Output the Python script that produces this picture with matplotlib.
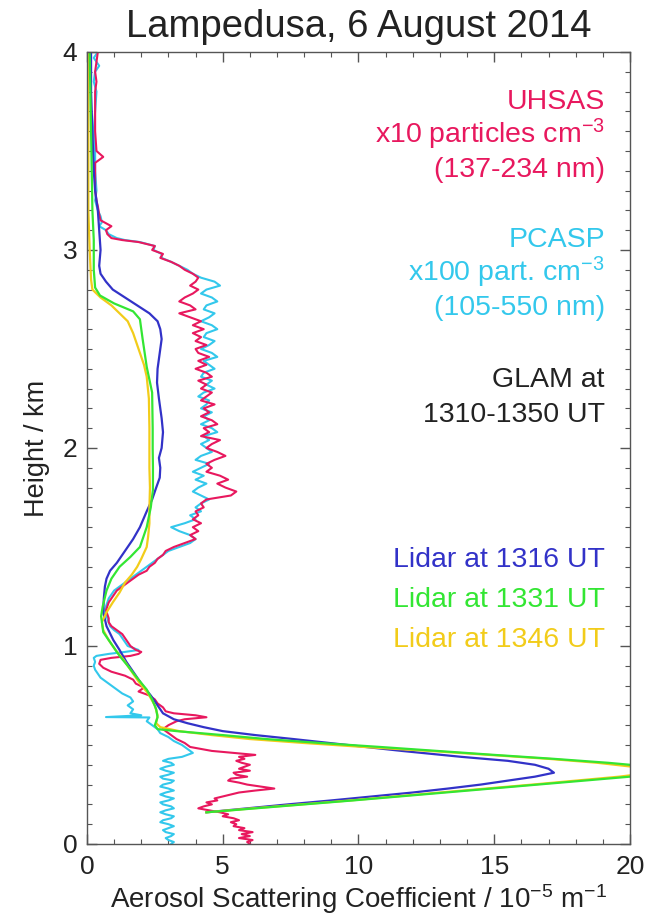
import matplotlib
matplotlib.use("Agg")
import matplotlib.pyplot as plt
from matplotlib.ticker import MultipleLocator

plt.rcParams['font.family'] = ['Liberation Sans', 'DejaVu Sans']
plt.rcParams['mathtext.fontset'] = 'custom'
plt.rcParams['mathtext.rm'] = 'Liberation Sans'
plt.rcParams['mathtext.default'] = 'regular'

# ---- aircraft profiles (height in km, scattering-equivalent value) ----
uhsas_km = [4.00, 3.95, 3.90, 3.85, 3.80, 3.70, 3.60, 3.50, 3.47, 3.44,
            3.40, 3.30, 3.25, 3.22, 3.18, 3.15, 3.12, 3.10, 3.08, 3.06,
            3.05, 3.04, 3.02, 3.00, 2.98, 2.96, 2.94, 2.92, 2.90, 2.88,
            2.86, 2.84, 2.82, 2.80, 2.78, 2.76, 2.74, 2.72, 2.70, 2.68,
            2.66, 2.64, 2.62, 2.60, 2.58, 2.56, 2.54, 2.52, 2.50, 2.48,
            2.46, 2.44, 2.42, 2.40, 2.38, 2.36, 2.34, 2.32, 2.30, 2.28,
            2.26, 2.24, 2.22, 2.20, 2.18, 2.16, 2.14, 2.12, 2.10, 2.08,
            2.06, 2.04, 2.02, 2.00, 1.98, 1.96, 1.94, 1.92, 1.90, 1.88,
            1.86, 1.84, 1.82, 1.80, 1.78, 1.76, 1.74, 1.72, 1.70, 1.68,
            1.66, 1.64, 1.62, 1.60, 1.58, 1.56, 1.54, 1.52, 1.50, 1.48,
            1.46, 1.44, 1.42, 1.40, 1.38, 1.36, 1.34, 1.32, 1.30, 1.28,
            1.26, 1.24, 1.22, 1.20, 1.18, 1.16, 1.14, 1.12, 1.10, 1.08,
            1.06, 1.04, 1.02, 1.00, 0.98, 0.97, 0.96, 0.95, 0.94, 0.93,
            0.91, 0.89, 0.87, 0.85, 0.83, 0.81, 0.79, 0.77, 0.75, 0.73,
            0.71, 0.69, 0.67, 0.66, 0.65, 0.64, 0.63, 0.62, 0.60, 0.58,
            0.57, 0.55, 0.53, 0.51, 0.49, 0.48, 0.47, 0.46, 0.45, 0.44,
            0.43, 0.42, 0.41, 0.40, 0.39, 0.38, 0.37, 0.36, 0.35, 0.34,
            0.33, 0.32, 0.31, 0.30, 0.29, 0.28, 0.27, 0.26, 0.25, 0.24,
            0.23, 0.22, 0.21, 0.20, 0.19, 0.18, 0.17, 0.16, 0.15, 0.14,
            0.13, 0.12, 0.11, 0.10, 0.09, 0.08, 0.07, 0.06, 0.05, 0.04,
            0.03, 0.02, 0.01, 0.00]
uhsas_val = [0.40, 0.35, 0.30, 0.35, 0.30, 0.30, 0.30, 0.35, 0.60, 0.30,
             0.30, 0.30, 0.35, 0.40, 0.45, 0.50, 0.90, 0.70, 0.75, 0.90,
             1.30, 1.90, 2.50, 2.40, 2.80, 2.70, 3.10, 3.40, 3.60, 3.90,
             4.10, 4.00, 3.80, 4.10, 3.90, 3.60, 3.40, 3.80, 4.00, 3.40,
             3.80, 4.20, 3.90, 4.30, 3.90, 4.20, 4.00, 4.40, 4.00, 4.10,
             4.50, 4.10, 4.40, 4.00, 4.40, 4.60, 4.10, 4.40, 4.20, 4.60,
             4.40, 4.20, 4.70, 4.30, 4.50, 4.20, 4.60, 4.80, 4.30, 4.50,
             4.20, 4.90, 4.60, 4.40, 4.80, 5.10, 4.70, 4.40, 4.60, 4.40,
             4.90, 5.20, 4.80, 5.10, 5.50, 5.30, 4.40, 4.20, 4.30, 4.00,
             4.10, 3.90, 4.20, 3.90, 4.10, 3.80, 4.00, 3.60, 3.20, 2.90,
             2.80, 2.60, 2.50, 2.30, 2.20, 1.90, 1.70, 1.50, 1.30, 1.10,
             1.00, 0.90, 0.80, 0.75, 0.70, 0.75, 0.80, 0.80, 0.90, 1.10,
             1.30, 1.40, 1.50, 1.60, 1.80, 2.00, 1.90, 1.60, 0.90, 0.50,
             0.45, 0.60, 0.90, 1.40, 1.70, 1.80, 2.10, 1.90, 2.30, 2.50,
             2.60, 2.80, 2.90, 3.20, 4.00, 4.40, 3.60, 3.30, 3.00, 2.80,
             2.90, 3.10, 3.30, 3.60, 3.80, 4.20, 4.60, 5.40, 6.20, 5.60,
             5.80, 5.50, 5.70, 6.00, 5.80, 5.60, 6.00, 5.40, 5.50, 5.90,
             5.30, 5.20, 5.60, 5.90, 6.40, 6.90, 6.20, 5.60, 5.30, 5.00,
             4.70, 4.80, 4.40, 4.60, 4.30, 4.10, 4.50, 4.90, 5.20, 5.00,
             5.40, 5.60, 5.30, 5.50, 5.40, 5.80, 5.60, 6.10, 5.70, 6.00,
             5.60, 6.10, 5.90, 6.00]

pcasp_km = [4.00, 3.97, 3.93, 3.90, 3.85, 3.80, 3.70, 3.60, 3.50, 3.40,
            3.30, 3.25, 3.20, 3.17, 3.14, 3.12, 3.10, 3.08, 3.06, 3.05,
            3.04, 3.02, 3.00, 2.98, 2.96, 2.94, 2.92, 2.90, 2.88, 2.86,
            2.84, 2.82, 2.80, 2.78, 2.76, 2.74, 2.72, 2.70, 2.68, 2.66,
            2.64, 2.62, 2.60, 2.58, 2.56, 2.54, 2.52, 2.50, 2.48, 2.46,
            2.44, 2.42, 2.40, 2.38, 2.36, 2.34, 2.32, 2.30, 2.28, 2.26,
            2.24, 2.22, 2.20, 2.18, 2.16, 2.14, 2.12, 2.10, 2.08, 2.06,
            2.04, 2.02, 2.00, 1.98, 1.96, 1.94, 1.92, 1.90, 1.88, 1.86,
            1.84, 1.82, 1.80, 1.78, 1.76, 1.74, 1.72, 1.70, 1.68, 1.66,
            1.64, 1.62, 1.60, 1.58, 1.56, 1.54, 1.52, 1.50, 1.48, 1.46,
            1.44, 1.42, 1.40, 1.38, 1.36, 1.34, 1.32, 1.30, 1.28, 1.26,
            1.24, 1.22, 1.20, 1.18, 1.16, 1.14, 1.12, 1.10, 1.08, 1.06,
            1.04, 1.02, 1.00, 0.98, 0.97, 0.96, 0.95, 0.94, 0.92, 0.90,
            0.88, 0.86, 0.84, 0.82, 0.80, 0.78, 0.76, 0.74, 0.72, 0.70,
            0.68, 0.66, 0.65, 0.641, 0.639, 0.62, 0.60, 0.58, 0.56, 0.54,
            0.52, 0.50, 0.48, 0.46, 0.44, 0.43, 0.42, 0.41, 0.40, 0.39,
            0.38, 0.37, 0.36, 0.35, 0.34, 0.33, 0.32, 0.31, 0.30, 0.29,
            0.28, 0.27, 0.26, 0.25, 0.24, 0.23, 0.22, 0.21, 0.20, 0.19,
            0.18, 0.17, 0.16, 0.15, 0.14, 0.13, 0.12, 0.11, 0.10, 0.09,
            0.08, 0.07, 0.06, 0.05, 0.04, 0.03, 0.02, 0.01, 0.00]
pcasp_val = [0.40, 0.25, 0.45, 0.30, 0.25, 0.35, 0.30, 0.25, 0.30, 0.30,
             0.35, 0.30, 0.40, 0.50, 0.55, 0.45, 0.70, 0.80, 1.10, 1.40,
             1.95, 2.50, 2.45, 2.75, 2.75, 3.10, 3.40, 3.70, 3.90, 4.20,
             4.70, 4.90, 4.40, 4.20, 4.60, 4.80, 4.40, 4.30, 4.70, 4.50,
             4.20, 4.60, 4.80, 4.40, 4.30, 4.70, 4.50, 4.20, 4.60, 4.80,
             4.30, 4.50, 4.70, 4.30, 4.20, 4.60, 4.40, 4.70, 4.30, 4.10,
             4.50, 4.40, 4.20, 4.60, 4.30, 4.50, 4.20, 4.60, 4.80, 4.30,
             4.50, 4.20, 4.40, 4.60, 4.20, 4.00, 4.50, 4.20, 3.90, 4.30,
             4.00, 4.40, 4.10, 3.90, 4.20, 4.50, 4.20, 4.00, 4.20, 3.80,
             4.00, 3.60, 3.10, 3.40, 3.80, 4.00, 3.80, 3.40, 3.00, 2.80,
             2.60, 2.40, 2.20, 2.00, 1.80, 1.60, 1.40, 1.20, 1.00, 0.90,
             0.80, 0.75, 0.70, 0.65, 0.70, 0.75, 0.80, 0.85, 1.00, 1.20,
             1.30, 1.40, 1.50, 1.90, 1.40, 0.80, 0.35, 0.25, 0.30, 0.25,
             0.30, 0.40, 0.50, 0.70, 0.90, 1.10, 1.30, 1.60, 1.70, 1.50,
             1.70, 1.60, 2.00, 0.70, 2.30, 2.20, 2.40, 2.60, 2.70, 3.00,
             3.20, 3.50, 3.70, 3.90, 3.50, 3.00, 2.80, 3.10, 3.20, 2.90,
             2.70, 2.90, 3.20, 3.00, 2.70, 2.80, 3.20, 3.10, 2.80, 2.70,
             3.00, 3.20, 2.90, 2.70, 2.90, 3.20, 3.00, 2.70, 2.80, 3.10,
             3.20, 2.90, 2.70, 2.90, 3.20, 3.10, 2.80, 2.70, 3.00, 3.20,
             3.00, 2.80, 2.90, 3.20, 3.10, 2.90, 3.00, 3.20, 3.10]

# ---- lidar profiles ----
lidar1316_km = [4.00, 3.80, 3.60, 3.40, 3.30, 3.20, 3.10, 3.00, 2.92, 2.88,
                2.84, 2.80, 2.76, 2.72, 2.68, 2.64, 2.60, 2.55, 2.50, 2.45,
                2.40, 2.33, 2.25, 2.15, 2.08, 2.00, 1.95, 1.90, 1.85, 1.80,
                1.74, 1.68, 1.60, 1.54, 1.48, 1.42, 1.38, 1.34, 1.30, 1.24,
                1.17, 1.10, 1.03, 0.98, 0.92, 0.86, 0.80, 0.75, 0.70, 0.66,
                0.63, 0.61, 0.59, 0.57, 0.55, 0.53, 0.50, 0.47, 0.44, 0.42,
                0.40, 0.38, 0.36, 0.34, 0.32, 0.30, 0.28, 0.26, 0.24, 0.22,
                0.20, 0.18, 0.16]
lidar1316_val = [0.15, 0.15, 0.20, 0.25, 0.30, 0.40, 0.45, 0.50, 0.45, 0.50,
                 0.70, 0.95, 1.40, 1.85, 2.30, 2.60, 2.70, 2.75, 2.70, 2.65,
                 2.60, 2.58, 2.65, 2.75, 2.80, 2.75, 2.65, 2.70, 2.68, 2.55,
                 2.40, 2.20, 1.95, 1.70, 1.40, 1.10, 0.85, 0.72, 0.66, 0.62,
                 0.60, 0.72, 0.97, 1.20, 1.45, 1.75, 2.05, 2.35, 2.60, 2.80,
                 3.20, 3.70, 4.30, 5.00, 6.20, 7.60, 9.60, 11.60, 13.80, 15.50,
                 16.50, 17.00, 17.20, 16.50, 15.50, 14.50, 13.30, 12.00, 10.50, 9.00,
                 7.40, 5.90, 4.40]

lidar1331_km = [4.00, 3.60, 3.20, 3.05, 2.90, 2.81, 2.77, 2.73, 2.69, 2.65,
                2.55, 2.41, 2.28, 2.10, 2.00, 1.90, 1.79, 1.70, 1.60, 1.50,
                1.45, 1.40, 1.34, 1.28, 1.20, 1.15, 1.07, 1.00, 0.95, 0.90,
                0.84, 0.78, 0.73, 0.68, 0.64, 0.60, 0.58, 0.57, 0.55, 0.53,
                0.51, 0.49, 0.47, 0.45, 0.43, 0.41, 0.40, 0.38, 0.37, 0.36,
                0.34, 0.30, 0.26, 0.22, 0.18, 0.16]
lidar1331_val = [0.10, 0.15, 0.20, 0.25, 0.25, 0.30, 0.48, 1.00, 1.70, 1.95,
                 2.05, 2.20, 2.40, 2.42, 2.42, 2.43, 2.43, 2.35, 2.20, 1.95,
                 1.60, 1.20, 0.90, 0.72, 0.58, 0.52, 0.60, 0.95, 1.20, 1.50,
                 1.84, 2.20, 2.40, 2.55, 2.60, 2.50, 2.60, 3.30, 5.00, 6.60,
                 8.60, 10.80, 12.90, 15.00, 17.20, 19.20, 20.00, 21.80, 22.50, 22.00,
                 20.00, 16.60, 13.20, 9.80, 6.20, 4.40]

lidar1346_km = [4.00, 3.50, 3.20, 3.00, 2.85, 2.80, 2.76, 2.72, 2.68, 2.64,
                2.58, 2.50, 2.42, 2.36, 2.25, 2.10, 2.00, 1.90, 1.80, 1.70,
                1.62, 1.55, 1.50, 1.47, 1.44, 1.40, 1.36, 1.32, 1.27, 1.22,
                1.17, 1.12, 1.08, 1.03, 0.98, 0.93, 0.88, 0.82, 0.76, 0.70,
                0.65, 0.61, 0.59, 0.57, 0.55, 0.53, 0.51, 0.49, 0.47, 0.45,
                0.43, 0.41, 0.39, 0.37, 0.36, 0.35, 0.34, 0.30, 0.26, 0.22,
                0.18, 0.16]
lidar1346_val = [0.05, 0.05, 0.05, 0.10, 0.15, 0.20, 0.50, 0.90, 1.20, 1.50,
                 1.70, 1.90, 2.10, 2.20, 2.28, 2.30, 2.30, 2.30, 2.32, 2.30,
                 2.30, 2.25, 2.20, 2.10, 2.00, 1.85, 1.65, 1.40, 1.20, 0.95,
                 0.72, 0.55, 0.60, 0.80, 1.05, 1.35, 1.60, 1.90, 2.25, 2.50,
                 2.60, 2.55, 2.70, 3.40, 4.60, 6.00, 8.00, 10.20, 12.60, 14.80,
                 17.00, 18.80, 20.10, 21.00, 20.80, 20.20, 19.60, 16.40, 13.00, 9.70,
                 6.10, 4.40]

c_uhsas = '#e8185e'
c_pcasp = '#33c8ec'
c_1316 = '#3232c8'
c_1331 = '#33e633'
c_1346 = '#f2cc1a'

fig = plt.figure(figsize=(6.52, 9.23), dpi=100)
ax = fig.add_axes([0.1334, 0.0856, 0.8328, 0.8581])

ax.plot(pcasp_val, pcasp_km, color=c_pcasp, lw=1.5)
ax.plot(uhsas_val, uhsas_km, color=c_uhsas, lw=1.5)
ax.plot(lidar1316_val, lidar1316_km, color=c_1316, lw=1.6)
ax.plot(lidar1346_val, lidar1346_km, color=c_1346, lw=1.6)
ax.plot(lidar1331_val, lidar1331_km, color=c_1331, lw=1.6)

ax.set_xlim(0, 20)
ax.set_ylim(0, 4)
ax.xaxis.set_major_locator(MultipleLocator(5))
ax.xaxis.set_minor_locator(MultipleLocator(1))
ax.yaxis.set_major_locator(MultipleLocator(1))
ax.yaxis.set_minor_locator(MultipleLocator(0.1))
ax.tick_params(which='both', direction='in', top=True, right=True,
               color='#555555', labelcolor='#222222', labelsize=19)
ax.tick_params(which='major', length=7, width=1)
ax.tick_params(which='minor', length=3.5, width=0.8)
ax.tick_params(axis='x', pad=8)
ax.tick_params(axis='y', pad=7)
for s in ax.spines.values():
    s.set_color('#555555')
    s.set_linewidth(1)

fig.canvas.draw()
ylabs = ax.get_yticklabels()
ylabs[0].set_va('bottom')
ylabs[-1].set_va('top')

ax.set_title('Lampedusa, 6 August 2014', fontsize=27.5, pad=11, color='#222222')
ax.set_xlabel('Aerosol Scattering Coefficient / 10$^{-5}$ m$^{-1}$',
              fontsize=20, labelpad=2, color='#222222')
ax.set_ylabel('Height / km', fontsize=19.5, labelpad=9, color='#222222')

notes = [
    ('UHSAS', 0.9280, c_uhsas),
    ('x10 particles cm$^{-3}$', 0.8851, c_uhsas),
    ('(137-234 nm)', 0.8422, c_uhsas),
    ('PCASP', 0.7538, c_pcasp),
    ('x100 part. cm$^{-3}$', 0.7109, c_pcasp),
    ('(105-550 nm)', 0.6679, c_pcasp),
    ('GLAM at', 0.5770, '#222222'),
    ('1310-1350 UT', 0.5328, '#222222'),
    ('Lidar at 1316 UT', 0.3497, c_1316),
    ('Lidar at 1331 UT', 0.2992, c_1331),
    ('Lidar at 1346 UT', 0.2487, c_1346),
]
for txt, yy, col in notes:
    ax.text(0.954, yy, txt, transform=ax.transAxes, ha='right', va='baseline',
            fontsize=20.5, color=col)

fig.savefig('out.png', dpi=100)
